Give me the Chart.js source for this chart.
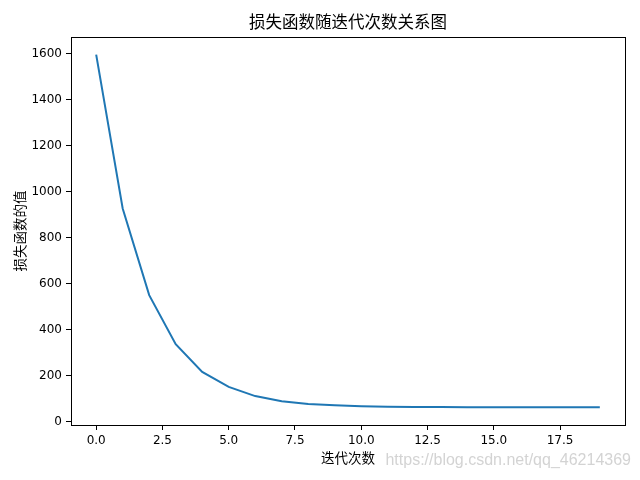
<!DOCTYPE html>
<html>
<head>
<meta charset="utf-8">
<script src="https://cdn.jsdelivr.net/npm/chart.js@4/dist/chart.umd.min.js"></script>
<style>
  html, body { margin: 0; padding: 0; background: #fff; }
  #wrap { width: 640px; height: 480px; }
</style>
</head>
<body>
<div id="wrap"><canvas id="lossChart" width="640" height="480"></canvas></div>
<script>
// iterations and loss values
var iterations = [0, 1, 2, 3, 4, 5, 6, 7, 8, 9, 10, 11, 12, 13, 14, 15, 16, 17, 18, 19];
var lossValues = [1595, 926, 549, 336, 215, 150, 110, 88, 76, 70, 66, 64, 63, 62.5, 62, 61.5, 61.5, 61, 61, 61];
var xTicks = [0, 2.5, 5, 7.5, 10, 12.5, 15, 17.5];
var yTicks = [0, 200, 400, 600, 800, 1000, 1200, 1400, 1600];
var chartTitle = '损失函数随迭代次数关系图';

var cjkFont = "'Noto Sans CJK SC', 'DejaVu Sans', sans-serif";
var numFont = "'DejaVu Sans', sans-serif";

var points = iterations.map(function (x, i) {
    return { x: x, y: lossValues[i] };
});

// box round the plot area, title centred over the axes, blog watermark
var framePlugin = {
    id: 'frame',
    afterDraw: function (chart) {
        var ctx = chart.ctx, a = chart.chartArea;
        ctx.save();
        ctx.strokeStyle = '#000';
        ctx.lineWidth = 1;
        ctx.strokeRect(Math.round(a.left) + 0.5, Math.round(a.top) + 0.5,
            Math.round(a.right - a.left), Math.round(a.bottom - a.top));

        ctx.fillStyle = '#000';
        ctx.font = "16.5px " + cjkFont;
        ctx.textAlign = 'center';
        ctx.textBaseline = 'middle';
        ctx.fillText(chartTitle, (a.left + a.right) / 2, 22);

        ctx.fillStyle = 'rgba(200,200,200,0.8)';
        ctx.font = "16px 'Liberation Sans', sans-serif";
        ctx.textAlign = 'right';
        ctx.fillText('https://blog.csdn.net/qq_46214369', 631, 461);
        ctx.restore();
    }
};

var ctxLoss = document.getElementById('lossChart').getContext('2d');
var lossChart = new Chart(ctxLoss, {
    type: 'line',
    data: {
        datasets: [{
            label: 'loss',
            data: points,
            borderColor: '#1f77b4',
            borderWidth: 2,
            pointRadius: 0,
            tension: 0,
            fill: false
        }]
    },
    options: {
        responsive: false,
        animation: false,
        layout: { padding: { left: 0, right: 15, top: 37, bottom: 0 } },
        plugins: {
            legend: { display: false },
            tooltip: { enabled: false },
            title: { display: false }
        },
        scales: {
            x: {
                type: 'linear',
                min: -0.95,
                max: 19.95,
                afterBuildTicks: function (scale) {
                    scale.ticks = xTicks.map(function (v) { return { value: v }; });
                },
                afterFit: function (scale) { scale.height = 55; },
                ticks: {
                    color: '#000',
                    font: { family: numFont, size: 12 },
                    padding: 4,
                    maxRotation: 0,
                    callback: function (v) { return v.toFixed(1); }
                },
                grid: {
                    drawOnChartArea: false,
                    drawTicks: true,
                    tickLength: 5,
                    color: '#000'
                },
                border: { display: true, color: '#000' },
                title: {
                    display: true,
                    text: '迭代次数',
                    color: '#000',
                    font: { family: cjkFont, size: 13.5 },
                    padding: { top: 2, bottom: 14 }
                }
            },
            y: {
                min: -15.7,
                max: 1671.7,
                afterBuildTicks: function (scale) {
                    scale.ticks = yTicks.map(function (v) { return { value: v }; });
                },
                afterFit: function (scale) { scale.width = 71; },
                ticks: {
                    color: '#000',
                    font: { family: numFont, size: 12 },
                    padding: 4,
                    callback: function (v) { return String(v); }
                },
                grid: {
                    drawOnChartArea: false,
                    drawTicks: true,
                    tickLength: 5,
                    color: '#000'
                },
                border: { display: true, color: '#000' },
                title: {
                    display: true,
                    text: '损失函数的值',
                    color: '#000',
                    font: { family: cjkFont, size: 13.5 },
                    padding: { top: 12, bottom: 4 }
                }
            }
        }
    },
    plugins: [framePlugin]
});
</script>
</body>
</html>
